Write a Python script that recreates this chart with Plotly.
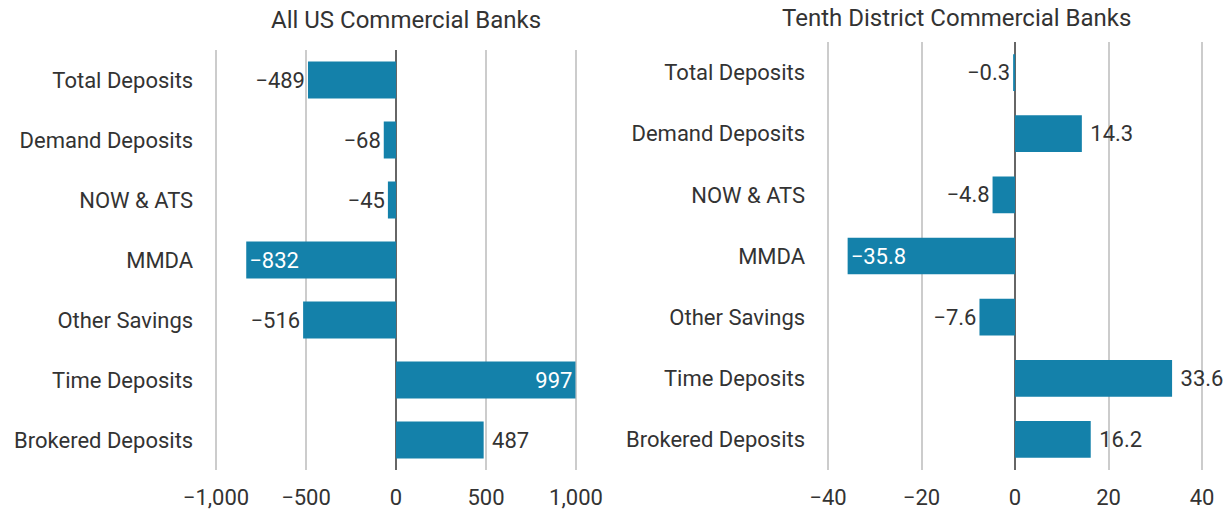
import plotly.graph_objects as go

categories = ["Total Deposits", "Demand Deposits", "NOW & ATS", "MMDA",
              "Other Savings", "Time Deposits", "Brokered Deposits"]
us_values = [-489, -68, -45, -832, -516, 997, 487]
tenth_values = [-0.3, 14.3, -4.8, -35.8, -7.6, 33.6, 16.2]
us_textpos = ["outside", "outside", "outside", "inside", "outside", "inside", "outside"]
tenth_textpos = ["outside", "outside", "outside", "inside", "outside", "outside", "outside"]
us_title = "All US Commercial Banks"
tenth_title = "Tenth District Commercial Banks"
us_ticks = [-1000, -500, 0, 500, 1000]
tenth_ticks = [-40, -20, 0, 20, 40]

W, H = 1229, 515
BAR = "#1481AA"
TXT = "#333333"
FONT = "Roboto"
FS = 22


def fmt(v, spec, pos):
    s = format(v, spec).replace("-", "\u2212")
    if pos == "outside" and v > 0:
        s = "\u00a0" + s
    return s


us_text = [fmt(v, ",", p) for v, p in zip(us_values, us_textpos)]
tenth_text = [fmt(v, ".1f", p) for v, p in zip(tenth_values, tenth_textpos)]


def px_x(v):
    return v / W


def px_y(v):
    return (H - v) / H


def padded(lo_px, hi_px, lo, hi, frac=0.005):
    """Widen range slightly so edge gridlines are drawn, keeping pixel scale."""
    pad = (hi - lo) * frac
    pad_px = (hi_px - lo_px) * frac
    return ([px_x(lo_px - pad_px), px_x(hi_px + pad_px)], [lo - pad, hi + pad])


us_dom, us_rng = padded(216, 576, us_ticks[0], us_ticks[-1])
te_dom, te_rng = padded(828, 1202, tenth_ticks[0], tenth_ticks[-1])

fig = go.Figure()
fig.add_trace(go.Bar(
    y=categories, x=us_values, orientation="h", marker=dict(color=BAR, line=dict(width=0)),
    width=0.62, text=us_text, texttemplate="%{text}", textposition=us_textpos,
    insidetextfont=dict(color="white", size=FS, family=FONT),
    outsidetextfont=dict(color=TXT, size=FS, family=FONT),
    cliponaxis=False, xaxis="x", yaxis="y", hoverinfo="skip", showlegend=False))
fig.add_trace(go.Bar(
    y=categories, x=tenth_values, orientation="h", marker=dict(color=BAR, line=dict(width=0)),
    width=0.6, text=tenth_text, texttemplate="%{text}", textposition=tenth_textpos,
    insidetextfont=dict(color="white", size=FS, family=FONT),
    outsidetextfont=dict(color=TXT, size=FS, family=FONT),
    cliponaxis=False, xaxis="x2", yaxis="y2", hoverinfo="skip", showlegend=False))

axis_common = dict(showgrid=True, gridcolor="#cccccc", gridwidth=2,
                   zeroline=True, zerolinecolor="#666666", zerolinewidth=1.5,
                   showline=False, ticks="", tickfont=dict(size=FS, color=TXT, family=FONT),
                   ticklabelstandoff=12, automargin=False)
yaxis_common = dict(autorange="reversed", showgrid=False, zeroline=False, ticks="",
                    ticklabelstandoff=20, automargin=False,
                    tickfont=dict(size=FS, color=TXT, family=FONT))

fig.update_layout(
    width=W, height=H, margin=dict(l=0, r=0, t=0, b=0),
    paper_bgcolor="white", plot_bgcolor="white",
    font=dict(family=FONT, color=TXT),
    xaxis=dict(domain=us_dom, range=us_rng, tickvals=us_ticks,
               separatethousands=True, tickformat=",", anchor="y", **axis_common),
    yaxis=dict(domain=[px_y(470), px_y(50)], anchor="x", **yaxis_common),
    xaxis2=dict(domain=te_dom, range=te_rng, tickvals=tenth_ticks,
                anchor="y2", **axis_common),
    yaxis2=dict(domain=[px_y(470), px_y(42)], anchor="x2", **yaxis_common),
    annotations=[
        dict(text=us_title, x=px_x(406), y=px_y(20), xref="paper", yref="paper",
             xanchor="center", yanchor="middle", showarrow=False,
             font=dict(size=24, color=TXT, family=FONT)),
        dict(text=tenth_title, x=px_x(956), y=px_y(18), xref="paper", yref="paper",
             xanchor="center", yanchor="middle", showarrow=False,
             font=dict(size=24, color=TXT, family=FONT)),
    ],
)

fig.write_html("out.html", config={"displayModeBar": False},
               post_script="document.body.style.margin='0';document.body.style.overflow='hidden';")
